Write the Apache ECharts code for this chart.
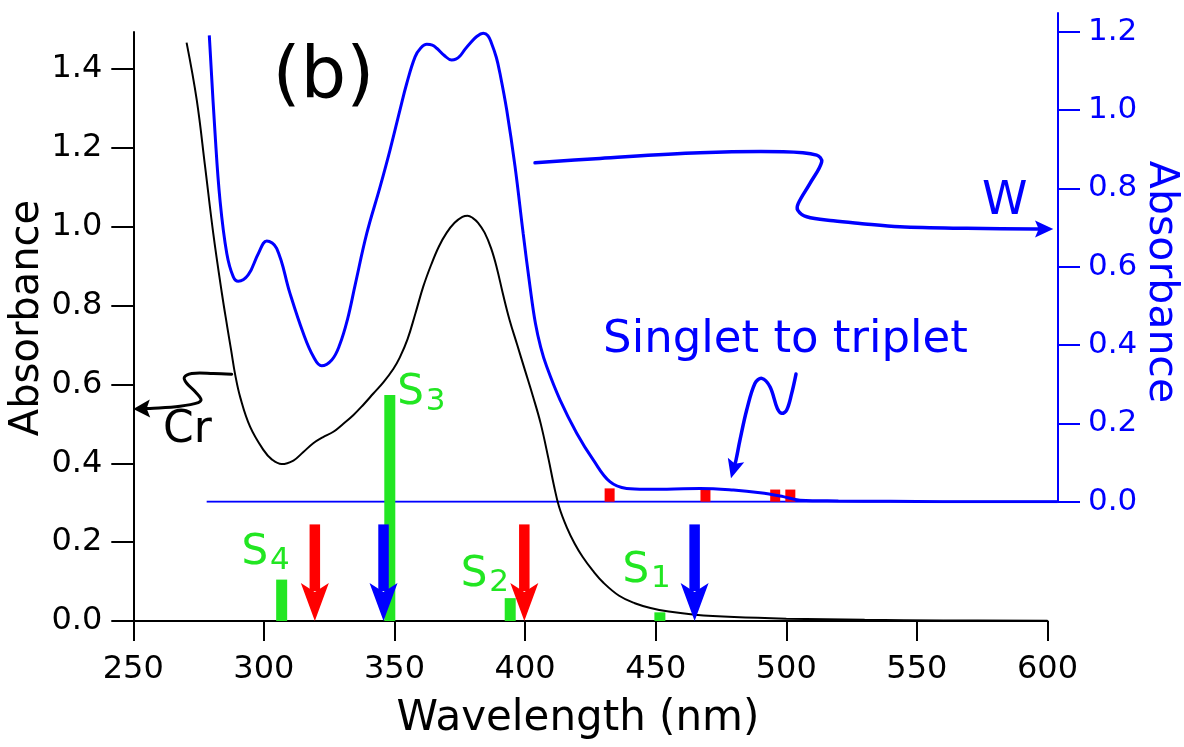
<!DOCTYPE html>
<html><head><meta charset="utf-8">
<script src="https://cdn.jsdelivr.net/npm/echarts@6/dist/echarts.min.js"></script>
<style>html,body{margin:0;padding:0;background:#fff}#c{width:1184px;height:747px}</style>
</head><body><div id="c"></div>
<script>
// ---------- data ----------
const wavelengthTicks = [250, 300, 350, 400, 450, 500, 550, 600];
const leftTicks = [0, 0.2, 0.4, 0.6, 0.8, 1.0, 1.2, 1.4];
const rightTicks = [0, 0.2, 0.4, 0.6, 0.8, 1.0, 1.2];

// Cr absorbance (left axis)
const crCurve = [
  [270.4,1.467],[274.3,1.321],[277.5,1.152],[280.6,0.984],[283.9,0.832],[286.0,0.745],[287.5,0.685],
  [289.0,0.625],[291.0,0.566],[294.7,0.493],[299.8,0.434],[303.0,0.410],[306.8,0.398],[311.3,0.407],
  [315.0,0.428],[318.9,0.451],[322.5,0.466],[326.6,0.480],[330.0,0.498],[334.2,0.522],[338.0,0.548],
  [341.9,0.577],[345.8,0.606],[349.6,0.640],[352.0,0.668],[355.0,0.715],[358.0,0.780],[361.0,0.848],
  [364.0,0.903],[367.0,0.950],[370.0,0.985],[373.0,1.010],[376.0,1.025],[378.0,1.028],[380.0,1.022],
  [382.0,1.010],[384.5,0.985],[387.0,0.945],[389.2,0.895],[391.5,0.830],[394.0,0.765],[397.0,0.700],
  [400.0,0.635],[403.0,0.570],[406.0,0.500],[409.0,0.410],[411.0,0.345],[413.0,0.290],[416.0,0.237],
  [419.0,0.196],[422.0,0.163],[426.0,0.127],[430.0,0.097],[436.0,0.064],[442.0,0.045],[448.0,0.033],
  [455.0,0.024],[465.0,0.016],[480.0,0.010],[500.0,0.006],[530.0,0.003],[560.0,0.0015],[600.0,0.0005]
];
// W absorbance (right axis)
const wCurve = [
  [279.1,1.191],[281.3,0.941],[283.2,0.770],[285.8,0.634],[288.3,0.574],[290.2,0.563],[294.0,0.579],
  [297.9,0.634],[301.1,0.666],[304.9,0.647],[310.0,0.532],[315.1,0.430],[319.0,0.370],[322.1,0.347],
  [326.0,0.362],[329.0,0.400],[332.0,0.465],[335.0,0.555],[339.4,0.685],[344.5,0.804],[348.3,0.898],
  [352.1,1.000],[354.7,1.068],[357.9,1.136],[360.0,1.158],[362.4,1.168],[364.5,1.166],[366.2,1.158],
  [369.0,1.140],[371.9,1.128],[373.5,1.130],[375.1,1.138],[377.0,1.155],[378.9,1.170],[381.5,1.188],
  [384.0,1.196],[385.8,1.190],[387.2,1.170],[389.0,1.135],[390.4,1.094],[393.0,1.000],[396.2,0.855],
  [399.3,0.685],[402.0,0.545],[404.0,0.455],[406.0,0.395],[408.3,0.345],[413.4,0.260],[419.8,0.175],
  [426.2,0.106],[432.5,0.051],[438.9,0.034],[446.0,0.032],[454.3,0.032],[467.0,0.034],[479.8,0.030],
  [490.0,0.023],[498.9,0.013],[505.3,0.004],[520.0,0.002],[540.0,0.001],[560.0,0.0],[604.0,0.0]
];
const wBaseline = [[278.1, 0], [604.1, 0]];

// singlet transitions (green sticks, left axis)
const sNames = ['S4', 'S3', 'S2', 'S1'];
const sWavelength = [306.8, 348.2, 394.3, 451.6];
const sStrength = [0.105, 0.573, 0.058, 0.022];
// vertical arrows (left axis)
const redArrowWl = [319.5, 399.7];
const blueArrowWl = [345.8, 464.9];
const arrowTop = 0.245;
// singlet-to-triplet sticks (red, right axis)
const tripletWl = [432.4, 469.1, 495.8, 501.6];
const tripletStrength = [0.034, 0.031, 0.031, 0.031];
// stray green dash
const strayDash = [[558.9, 0.219]];

// ---------- styling / annotation geometry ----------
const FONT = 'DejaVu Sans';
const BLUE = '#0000ff', RED = '#ff0000', GREEN = '#22e622', BLACK = '#000000';

const sLabelAnchor = [[296.5, 0.172], [356.15, 0.577], [380.5, 0.117], [442.4, 0.127]];
const crArrow = [[287.68,0.626],[280.64,0.628],[272.36,0.628],[269.53,0.618],[270.45,0.603],[273.63,0.582],
  [275.93,0.562],[274.89,0.554],[267.88,0.545],[256.39,0.539],[250.0,0.538]];
const wArrow = [[403.83,0.8655],[428.72,0.8767],[467.01,0.8910],[498.91,0.8935],[511.70,0.8851],[513.61,0.8680],
  [509.13,0.8129],[504.65,0.7618],[504.42,0.7447],[507.87,0.7276],[518.06,0.7174],[528.28,0.7107],
  [543.60,0.7021],[569.14,0.6980],[595.30,0.6962],[602.3,0.6962]];
const stArrow = [[503.77,0.3260],[502.12,0.2767],[500.21,0.2341],[498.29,0.2257],[496.61,0.2384],[493.81,0.2936],
  [490.64,0.3150],[488.07,0.3023],[484.89,0.2341],[482.33,0.1576],[480.80,0.1065],[478.88,0.0597]];

function pathArrow(path, color, width, headW, axis) {
  return {
    type: 'custom', xAxisIndex: axis, yAxisIndex: axis, clip: false, silent: true, z: 8,
    data: [path[0]],
    renderItem(params, api) {
      const pts = path.map(p => api.coord(p));
      const tip = pts[pts.length - 1], base = pts[pts.length - 2];
      const dx = tip[0] - base[0], dy = tip[1] - base[1], L = Math.hypot(dx, dy);
      const ux = dx / L, uy = dy / L, nx = -uy, ny = ux;
      const notch = [base[0] + ux * L * 0.2, base[1] + uy * L * 0.2];
      return { type: 'group', children: [
        { type: 'polyline', shape: { points: pts.slice(0, -1).concat([notch]), smooth: 0.35 },
          style: { stroke: color, lineWidth: width, fill: null, lineCap: 'round', lineJoin: 'round' } },
        { type: 'polygon', shape: { points: [tip, [base[0] + nx * headW / 2, base[1] + ny * headW / 2], notch,
          [base[0] - nx * headW / 2, base[1] - ny * headW / 2]] }, style: { fill: color } }
      ]};
    }
  };
}
function textMark(axis, pos, text, color, size, align) {
  return {
    type: 'custom', xAxisIndex: axis, yAxisIndex: axis, clip: false, silent: true, z: 9,
    data: [pos],
    renderItem(params, api) {
      const p = api.coord([api.value(0), api.value(1)]);
      return { type: 'text', x: p[0], y: p[1], style: { text: text, fill: color, fontSize: size,
        fontFamily: FONT, align: align || 'center', verticalAlign: 'middle' } };
    }
  };
}
function vArrows(wl, color) {
  return {
    type: 'custom', xAxisIndex: 0, yAxisIndex: 0, clip: false, silent: true, z: 6,
    data: wl.map(w => [w, arrowTop]),
    renderItem(params, api) {
      const pt = api.coord([api.value(0), api.value(1)]), pb = api.coord([api.value(0), 0]);
      const headLen = 38, headW = 28, shaftW = 10.5, x = pb[0];
      return { type: 'group', children: [
        { type: 'rect', shape: { x: x - shaftW / 2, y: pt[1], width: shaftW, height: pb[1] - headLen + 8 - pt[1] }, style: { fill: color } },
        { type: 'polygon', shape: { points: [[x - headW / 2, pb[1] - headLen], [x, pb[1] - headLen + 9], [x + headW / 2, pb[1] - headLen], [x, pb[1]]] }, style: { fill: color } }
      ]};
    }
  };
}
function sticks(axis, wl, val, color, w, z) {
  return {
    type: 'custom', xAxisIndex: axis, yAxisIndex: axis, clip: false, silent: true, z: z,
    data: wl.map((x, i) => [x, val[i]]),
    renderItem(params, api) {
      const p0 = api.coord([api.value(0), 0]), p1 = api.coord([api.value(0), api.value(1)]);
      return { type: 'rect', shape: { x: p0[0] - w / 2, y: p1[1], width: w, height: p0[1] - p1[1] }, style: { fill: color } };
    }
  };
}

const sLabelSeries = {
  type: 'custom', xAxisIndex: 0, yAxisIndex: 0, clip: false, silent: true, z: 9,
  data: sLabelAnchor.map((a, i) => [a[0], a[1], i]),
  renderItem(params, api) {
    const p = api.coord([api.value(0), api.value(1)]);
    const name = sNames[api.value(2)];
    return { type: 'group', children: [
      { type: 'text', x: p[0], y: p[1], style: { text: name[0], fill: GREEN, fontSize: 42, fontFamily: FONT, align: 'center', verticalAlign: 'middle' } },
      { type: 'text', x: p[0] + 25, y: p[1] + 8, style: { text: name.slice(1), fill: GREEN, fontSize: 31, fontFamily: FONT, align: 'center', verticalAlign: 'middle' } }
    ]};
  }
};

const chart = echarts.init(document.getElementById('c'));
chart.setOption({
  animation: false,
  backgroundColor: '#fff',
  grid: [
    { left: 133.3, right: 136.5, top: 32, bottom: 126, outerBoundsMode: 'none', containLabel: false },
    { left: 133.3, right: 126, top: 13, bottom: 245.3, outerBoundsMode: 'none', containLabel: false }
  ],
  xAxis: [
    { gridIndex: 0, type: 'value', min: 250, max: 600,
      axisLine: { show: true, onZero: false, lineStyle: { color: BLACK, width: 2 } },
      axisTick: { show: true, length: 20, customValues: wavelengthTicks, lineStyle: { color: BLACK, width: 2 } },
      axisLabel: { customValues: wavelengthTicks, margin: 33, color: BLACK, fontSize: 32, fontFamily: FONT },
      splitLine: { show: false } },
    { gridIndex: 1, type: 'value', min: 250, max: 604.1, show: false }
  ],
  yAxis: [
    { gridIndex: 0, type: 'value', min: 0, max: 1.494, position: 'left',
      axisLine: { show: true, onZero: false, lineStyle: { color: BLACK, width: 2 } },
      axisTick: { show: true, length: 22, customValues: leftTicks, lineStyle: { color: BLACK, width: 2 } },
      axisLabel: { customValues: leftTicks, formatter: v => v.toFixed(1), margin: 31, color: BLACK, fontSize: 32, fontFamily: FONT },
      splitLine: { show: false } },
    { gridIndex: 1, type: 'value', min: 0, max: 1.248, position: 'right',
      axisLine: { show: true, onZero: false, lineStyle: { color: BLUE, width: 2 } },
      axisTick: { show: true, length: 22, customValues: rightTicks, lineStyle: { color: BLUE, width: 2 } },
      axisLabel: { customValues: rightTicks, formatter: v => v.toFixed(1), margin: 30, color: BLUE, fontSize: 31, fontFamily: FONT },
      splitLine: { show: false } }
  ],
  graphic: [
    { type: 'text', x: 578, y: 719, style: { text: 'Wavelength (nm)', fill: BLACK, fontSize: 42, fontFamily: FONT, align: 'center', verticalAlign: 'middle' } },
    { type: 'text', x: 28, y: 318, rotation: Math.PI / 2, style: { text: 'Absorbance', fill: BLACK, fontSize: 40, fontFamily: FONT, align: 'center', verticalAlign: 'middle' } },
    { type: 'text', x: 1161, y: 282, rotation: -Math.PI / 2, style: { text: 'Absorbance', fill: BLUE, fontSize: 41, fontFamily: FONT, align: 'center', verticalAlign: 'middle' } }
  ],
  series: [
    { type: 'line', xAxisIndex: 1, yAxisIndex: 1, data: wBaseline, symbol: 'none', lineStyle: { color: BLUE, width: 2 }, z: 2, silent: true },
    sticks(1, tripletWl, tripletStrength, RED, 10, 3),
    { type: 'line', xAxisIndex: 1, yAxisIndex: 1, data: wCurve, symbol: 'none', smooth: 0.4, lineStyle: { color: BLUE, width: 3 }, z: 4, silent: true },
    sticks(0, sWavelength, sStrength, GREEN, 11, 3),
    sticks(0, strayDash.map(d => d[0]), strayDash.map(d => 0.0025), GREEN, 11, 3),
    vArrows(redArrowWl, RED),
    vArrows(blueArrowWl, BLUE),
    { type: 'line', xAxisIndex: 0, yAxisIndex: 0, data: crCurve, symbol: 'none', smooth: 0.4, lineStyle: { color: BLACK, width: 2 }, z: 5, silent: true },
    sLabelSeries,
    pathArrow(crArrow, BLACK, 3, 18, 0),
    pathArrow(wArrow, BLUE, 3.5, 17, 1),
    pathArrow(stArrow, BLUE, 3.5, 17, 1),
    textMark(0, [322.8, 1.376], '(b)', BLACK, 72),
    textMark(0, [270.75, 0.482], 'Cr', BLACK, 44),
    textMark(1, [583.75, 0.764], 'W', BLUE, 46),
    textMark(1, [499.75, 0.413], 'Singlet to triplet', BLUE, 45)
  ]
});
</script></body></html>
